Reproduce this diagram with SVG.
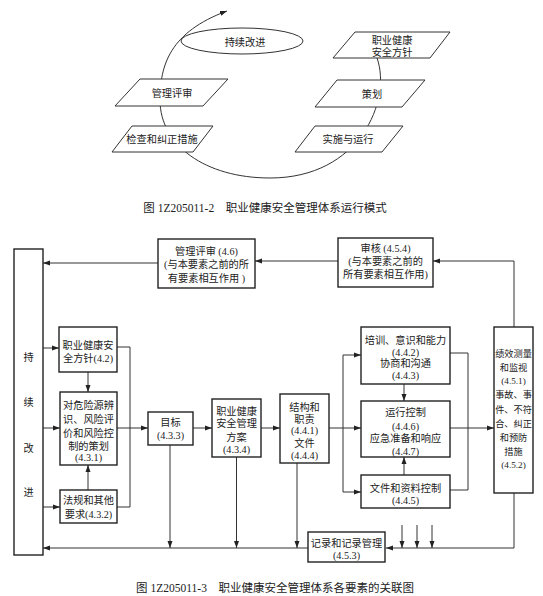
<svg xmlns="http://www.w3.org/2000/svg" width="543" height="596" viewBox="0 0 543 596">
<style>
text{font-family:"Liberation Serif","Noto Sans CJK SC",serif;font-size:10.2px;fill:#222;text-anchor:middle}
.cap{font-size:11.5px}
.sm{font-size:9.2px}
.box{fill:#fff;stroke:#222;stroke-width:1.4}
.shape{fill:#fff;stroke:#333;stroke-width:1}
.ln{fill:none;stroke:#333;stroke-width:1}
</style>
<defs>
<marker id="ah" markerUnits="userSpaceOnUse" markerWidth="8" markerHeight="6" refX="7" refY="3" orient="auto">
<path d="M0,0.5 L7,3 L0,5.5 Z" fill="#222"/>
</marker>
</defs>
<rect width="543" height="596" fill="#fff"/>

<!-- Figure 1 -->
<g id="cycle">
<path class="ln" d="M377,58 C392,100 360,178 270,178 C205,178 160,145 160,100 C160,65 170,32 227,11" marker-end="url(#ah)"/>
</g>
<g id="n-improve"><ellipse class="shape" cx="242" cy="41" rx="61" ry="13"/><text x="245" y="46">持续改进</text></g>
<g id="n-policy"><polygon class="shape" points="355,32 450,32 430,58 333,58"/><text x="392" y="44">职业健康</text><text x="392" y="56">安全方针</text></g>
<g id="n-plan"><polygon class="shape" points="337,80 425,80 402,107 315,107"/><text x="372" y="98">策划</text></g>
<g id="n-impl"><polygon class="shape" points="315,126 403,126 382,152 295,152"/><text x="348" y="143">实施与运行</text></g>
<g id="n-review"><polygon class="shape" points="140,79 228,79 203,106 115,106"/><text x="172" y="97">管理评审</text></g>
<g id="n-check"><polygon class="shape" points="132,126 213,126 193,152 112,152"/><text x="162" y="143">检查和纠正措施</text></g>
<text class="cap" x="265" y="212">图 1Z205011-2　职业健康安全管理体系运行模式</text>

<!-- Figure 2 connectors -->
<g id="connectors">
<path class="ln" d="M514,327 V261 H433" marker-end="url(#ah)"/>
<path class="ln" d="M338,261 H255" marker-end="url(#ah)"/>
<path class="ln" d="M158,263 H43" marker-end="url(#ah)"/>
<path class="ln" d="M43,348 H59" marker-end="url(#ah)"/>
<path class="ln" d="M43,428 H60" marker-end="url(#ah)"/>
<path class="ln" d="M43,507 H60" marker-end="url(#ah)"/>
<path class="ln" d="M88,372 V392" marker-end="url(#ah)"/>
<path class="ln" d="M88,490 V465" marker-end="url(#ah)"/>
<path class="ln" d="M117,347 H130 V507 H117"/>
<path class="ln" d="M117,428 H148" marker-end="url(#ah)"/>
<path class="ln" d="M193,428 H212" marker-end="url(#ah)"/>
<path class="ln" d="M261,428 H280" marker-end="url(#ah)"/>
<path class="ln" d="M329,428 H361" marker-end="url(#ah)"/>
<path class="ln" d="M343,428 V355 H361" marker-end="url(#ah)"/>
<path class="ln" d="M343,428 V492 H361" marker-end="url(#ah)"/>
<path class="ln" d="M404,384 V401" marker-end="url(#ah)"/>
<path class="ln" d="M404,475 V457" marker-end="url(#ah)"/>
<path class="ln" d="M450,353 H468 V490 H450"/>
<path class="ln" d="M450,428 H494" marker-end="url(#ah)"/>
<path class="ln" d="M514,493 V548 H386" marker-end="url(#ah)"/>
<path class="ln" d="M402,525 V548" marker-end="url(#ah)"/>
<path class="ln" d="M417,525 V548" marker-end="url(#ah)"/>
<path class="ln" d="M432,525 V548" marker-end="url(#ah)"/>
<path class="ln" d="M308,548 H43" marker-end="url(#ah)"/>
<path class="ln" d="M170,445 V548" marker-end="url(#ah)"/>
<path class="ln" d="M236.5,457 V548" marker-end="url(#ah)"/>
<path class="ln" d="M297,463 V548" marker-end="url(#ah)"/>
</g>

<!-- Figure 2 nodes -->
<g id="b-improve"><rect class="box" x="14" y="249" width="29" height="306"/>
<text x="28.5" y="361">持</text><text x="28.5" y="406">续</text><text x="28.5" y="452">改</text><text x="28.5" y="496">进</text></g>
<g id="b-review"><rect class="box" x="158" y="239" width="97" height="49"/>
<text x="206.5" y="255">管理评审 (4.6)</text><text x="206.5" y="268">(与本要素之前的所</text><text x="206.5" y="282">有要素相互作用 )</text></g>
<g id="b-audit"><rect class="box" x="338" y="238" width="95" height="49"/>
<text x="385.5" y="252">审核 (4.5.4)</text><text x="385.5" y="265">(与本要素之前的</text><text x="385.5" y="278">所有要素相互作用)</text></g>
<g id="b-policy"><rect class="box" x="59" y="327" width="58" height="45"/>
<text x="88" y="349">职业健康安</text><text x="88" y="362">全方针(4.2)</text></g>
<g id="b-hazard"><rect class="box" x="60" y="392" width="57" height="73"/>
<text x="88.5" y="409">对危险源辨</text><text x="88.5" y="423">识、风险评</text><text x="88.5" y="437">价和风险控</text><text x="88.5" y="450">制的策划</text><text x="88.5" y="461">(4.3.1)</text></g>
<g id="b-legal"><rect class="box" x="60" y="490" width="57" height="33"/>
<text x="88.5" y="504">法规和其他</text><text x="88.5" y="518">要求(4.3.2)</text></g>
<g id="b-goal"><rect class="box" x="148" y="412" width="45" height="33"/>
<text x="170.5" y="426">目标</text><text x="170.5" y="439">(4.3.3)</text></g>
<g id="b-program"><rect class="box" x="212" y="399" width="49" height="58"/>
<text x="236.5" y="415">职业健康</text><text x="236.5" y="427">安全管理</text><text x="236.5" y="441">方案</text><text x="236.5" y="453">(4.3.4)</text></g>
<g id="b-struct"><rect class="box" x="280" y="394" width="49" height="69"/>
<text x="304.5" y="411">结构和</text><text x="304.5" y="423">职责</text><text x="304.5" y="434">(4.4.1)</text><text x="304.5" y="447">文件</text><text x="304.5" y="459">(4.4.4)</text></g>
<g id="b-train"><rect class="box" x="361" y="327" width="89" height="57"/>
<text x="405.5" y="344">培训、意识和能力</text><text x="405.5" y="356">(4.4.2)</text><text x="405.5" y="367">协商和沟通</text><text x="405.5" y="379">(4.4.3)</text></g>
<g id="b-ops"><rect class="box" x="361" y="401" width="89" height="56"/>
<text x="405.5" y="416">运行控制</text><text x="405.5" y="430">(4.4.6)</text><text x="405.5" y="442">应急准备和响应</text><text x="405.5" y="455">(4.4.7)</text></g>
<g id="b-docs"><rect class="box" x="361" y="475" width="89" height="33"/>
<text x="405.5" y="492">文件和资料控制</text><text x="405.5" y="504">(4.4.5)</text></g>
<g id="b-perf"><rect class="box" x="494" y="327" width="39" height="166"/>
<text class="sm" x="513.5" y="357">绩效测量</text><text class="sm" x="513.5" y="371">和监视</text><text class="sm" x="513.5" y="384">(4.5.1)</text><text class="sm" x="513.5" y="398">事故、事</text><text class="sm" x="513.5" y="413">件、不符</text><text class="sm" x="513.5" y="427">合、纠正</text><text class="sm" x="513.5" y="441">和预防</text><text class="sm" x="513.5" y="455">措施</text><text class="sm" x="513.5" y="468">(4.5.2)</text></g>
<g id="b-record"><rect class="box" x="308" y="532" width="77" height="30"/>
<text x="346.5" y="547">记录和记录管理</text><text x="346.5" y="559">(4.5.3)</text></g>
<text class="cap" x="275" y="592">图 1Z205011-3　职业健康安全管理体系各要素的关联图</text>
</svg>
